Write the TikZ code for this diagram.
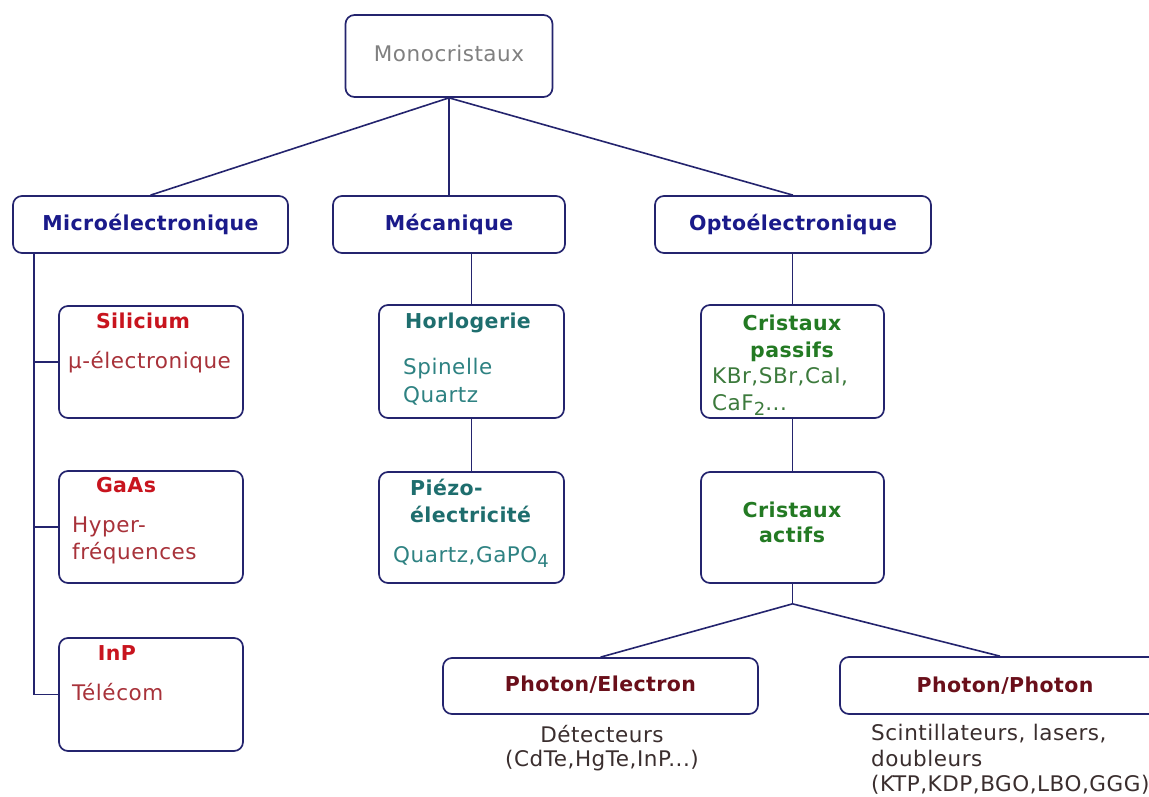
\documentclass[tikz,border=0pt]{standalone}
\usepackage{fontspec}
\setmainfont{DejaVu Sans}
\newfontfamily\bodyf[LetterSpace=2.5]{DejaVu Sans}
\newfontfamily\headf[LetterSpace=2]{DejaVu Sans}
\usetikzlibrary{calc}
\definecolor{navy}{HTML}{24246E}
\definecolor{hdblue}{HTML}{1A1A8A}
\definecolor{redh}{HTML}{C8141E}
\definecolor{redb}{HTML}{A8323A}
\definecolor{tealh}{HTML}{1E6E6E}
\definecolor{tealb}{HTML}{2E8282}
\definecolor{greenh}{HTML}{237A23}
\definecolor{greenb}{HTML}{3C7A3C}
\definecolor{maroonh}{HTML}{6A0F1A}
\definecolor{graytx}{HTML}{808080}
\definecolor{bodyd}{HTML}{3A2E2E}
\newcommand{\sbs}[1]{\raisebox{-5pt}{\fontsize{18}{18}\selectfont #1}}
\tikzset{
 box/.style={draw=navy, line width=1.7pt, rounded corners=9pt, fill=white, inner sep=0pt},
 conn/.style={draw=navy, line width=1.6pt},
 hd/.style={font=\headf\fontsize{20.5}{24}\selectfont\bfseries, inner sep=0pt, text height=15pt, text depth=4pt},
 bd/.style={font=\bodyf\fontsize{21.5}{25}\selectfont, inner sep=0pt, text height=15pt, text depth=4pt},
}
\begin{document}
\begin{tikzpicture}[x=1pt,y=-1pt]
\clip (0,0) rectangle (1149,797);
\fill[white] (0,0) rectangle (1149,797);

% top level
\node[box, bd, text=graytx, minimum width=207pt, minimum height=82pt] (mono) at (449,56) {Monocristaux};
\node[box, hd, text=hdblue, minimum width=275pt, minimum height=57pt] (micro) at (150.5,224.5) {Microélectronique};
\node[box, hd, text=hdblue, minimum width=232pt, minimum height=57pt] (meca) at (449,224.5) {Mécanique};
\node[box, hd, text=hdblue, minimum width=276pt, minimum height=57pt] (opto) at (793,224.5) {Optoélectronique};

% micro column
\node[box, minimum width=184pt, minimum height=112pt] (si) at (151,362) {};
\node[box, minimum width=184pt, minimum height=112pt] (gaas) at (151,527) {};
\node[box, minimum width=184pt, minimum height=113pt] (inp) at (151,694.5) {};
\node[hd, text=redh] (tsi) at (143,323) {Silicium};
\node[bd, text=redb, anchor=west] (tsi2) at (68,363) {µ-électronique};
\node[hd, text=redh] (tga) at (126,487) {GaAs};
\node[bd, text=redb, anchor=west] (tga2) at (72,527) {Hyper-};
\node[bd, text=redb, anchor=west] (tga3) at (72,554) {fréquences};
\node[hd, text=redh] (tin) at (117,655) {InP};
\node[bd, text=redb, anchor=west] (tin2) at (72,695) {Télécom};

% meca column
\node[box, minimum width=185pt, minimum height=113pt] (horl) at (471.5,361.5) {};
\node[box, minimum width=185pt, minimum height=111pt] (piezo) at (471.5,527.5) {};
\node[hd, text=tealh] (th) at (468,323) {Horlogerie};
\node[bd, text=tealb, anchor=west] (th2) at (403,369) {Spinelle};
\node[bd, text=tealb, anchor=west] (th3) at (403,397) {Quartz};
\node[hd, text=tealh, anchor=west] (tp) at (410,490) {Piézo-};
\node[hd, text=tealh, anchor=west] (tp2) at (410,517) {électricité};
\node[bd, text=tealb, anchor=west] (tp3) at (393,557) {Quartz,GaPO\sbs{4}};

% opto column
\node[box, minimum width=183pt, minimum height=113pt] (passifs) at (792.5,361.5) {};
\node[box, minimum width=183pt, minimum height=111pt] (actifs) at (792.5,527.5) {};
\node[hd, text=greenh] (tc1) at (792,325) {Cristaux};
\node[hd, text=greenh] (tc2) at (792,352) {passifs};
\node[bd, text=greenb, anchor=west] (tc3) at (712,378) {KBr,SBr,CaI,};
\node[bd, text=greenb, anchor=west] (tc4) at (712,405) {CaF\sbs{2}...};
\node[hd, text=greenh] (ta1) at (792,512) {Cristaux};
\node[hd, text=greenh] (ta2) at (792,537) {actifs};

% bottom
\node[box, hd, text=maroonh, minimum width=315pt, minimum height=56pt] (pe) at (600.5,686) {Photon/Electron};
\node[box, minimum width=320pt, minimum height=57pt] (pp) at (1000,685.5) {};
\node[hd, text=maroonh] (tpp) at (1005,687) {Photon/Photon};
\node[bd, text=bodyd] (tpe1) at (602,737) {Détecteurs};
\node[bd, text=bodyd] (tpe2) at (602,761) {(CdTe,HgTe,InP...)};
\node[bd, text=bodyd, anchor=west] (tpp1) at (871,735) {Scintillateurs, lasers,};
\node[bd, text=bodyd, anchor=west] (tpp2) at (871,761) {doubleurs};
\node[bd, text=bodyd, anchor=west] (tpp3) at (871,786) {(KTP,KDP,BGO,LBO,GGG)};

% connectors
\draw[conn] (mono.south) -- (micro.north);
\draw[conn] (mono.south) -- (meca.north);
\draw[conn] (mono.south) -- (opto.north);
\coordinate (trunk) at ($(micro.south west)+(22,0)$);
\draw[conn] (trunk) |- (inp.west);
\draw[conn] (trunk |- si.west) -- (si.west);
\draw[conn] (trunk |- gaas.west) -- (gaas.west);
\draw[conn] (meca.south -| horl.north) -- (horl.north);
\draw[conn] (horl.south) -- (piezo.north);
\draw[conn] (opto.south -| passifs.north) -- (passifs.north);
\draw[conn] (passifs.south) -- (actifs.north);
\coordinate (junc) at ($(actifs.south)+(0,20)$);
\draw[conn] (actifs.south) -- (junc);
\draw[conn] (junc) -- (pe.north);
\draw[conn] (junc) -- (pp.north);
\end{tikzpicture}
\end{document}
